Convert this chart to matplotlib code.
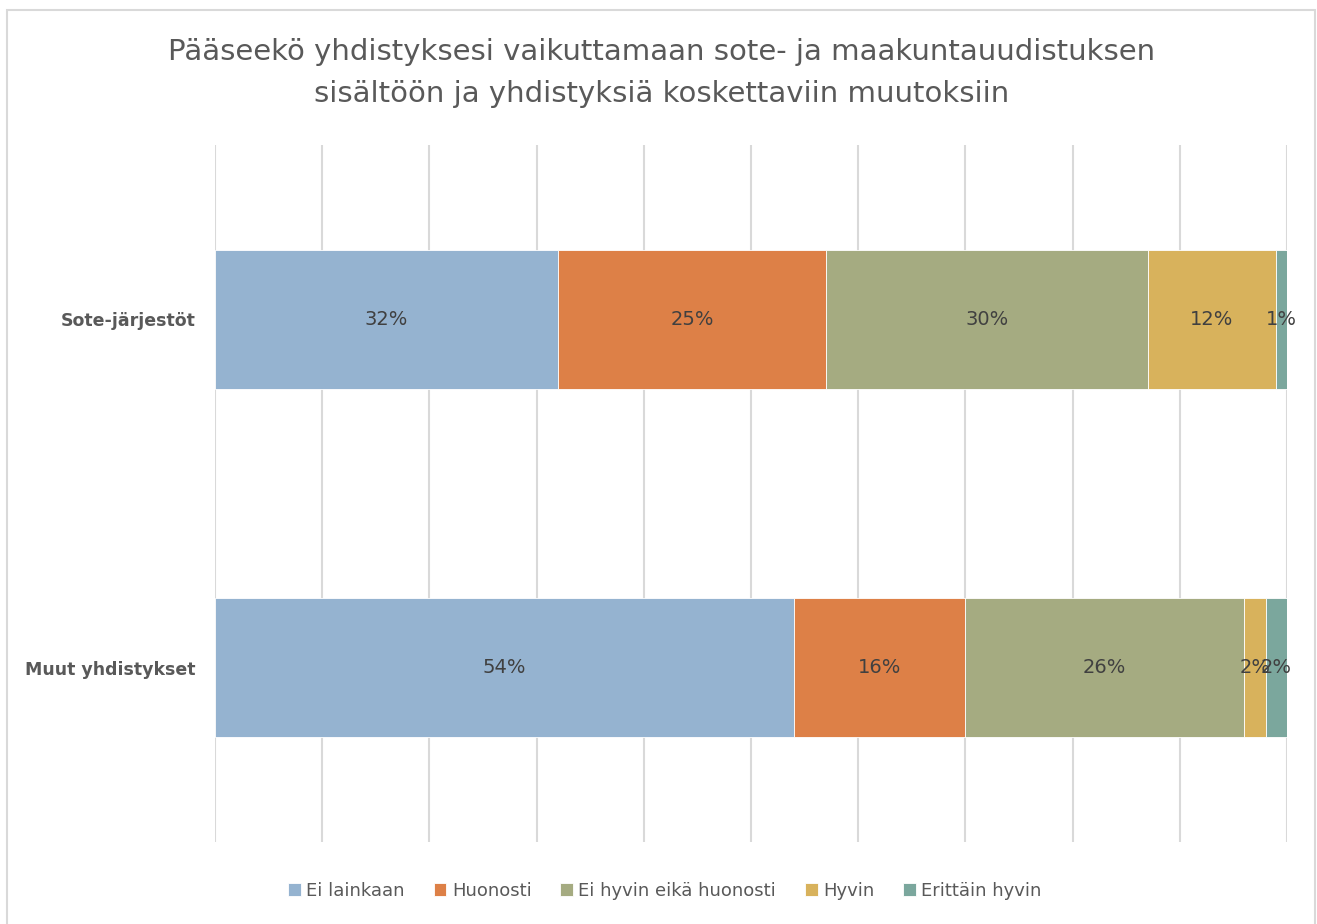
import matplotlib
matplotlib.use("Agg")
import matplotlib.pyplot as plt
from matplotlib.patches import Rectangle
import numpy as np

categories = ["Sote-järjestöt", "Muut yhdistykset"]
series_names = ["Ei lainkaan", "Huonosti", "Ei hyvin eikä huonosti", "Hyvin", "Erittäin hyvin"]
values = {
    "Ei lainkaan": [32, 54],
    "Huonosti": [25, 16],
    "Ei hyvin eikä huonosti": [30, 26],
    "Hyvin": [12, 2],
    "Erittäin hyvin": [1, 2],
}
colors = ["#95B3D0", "#DD8047", "#A5AB81", "#D8B25C", "#7BA79D"]
title = "Pääseekö yhdistyksesi vaikuttamaan sote- ja maakuntauudistuksen\nsisältöön ja yhdistyksiä koskettaviin muutoksiin"

plt.rcParams['font.family'] = ['DejaVu Sans']

W, H = 1317, 924
fig = plt.figure(figsize=(W / 100, H / 100), dpi=100)

# chart frame
fig.patches.append(Rectangle((7 / W, -0.01), (1315 - 7) / W, 1 - 10 / H + 0.01,
                             transform=fig.transFigure, fill=False,
                             edgecolor="#D9D9D9", linewidth=1.5))

ax = fig.add_axes([215 / W, 1 - 842 / H, (1287 - 215) / W, (842 - 145) / H])
ypos = np.arange(len(categories))[::-1]  # Sote top
totals = np.array([sum(values[s][i] for s in series_names) for i in range(len(categories))], dtype=float)
left = np.zeros(len(categories))
for name, col in zip(series_names, colors):
    v = np.array(values[name], dtype=float)
    frac = v / totals
    ax.barh(ypos, frac, left=left, height=0.4, color=col, edgecolor="white",
            linewidth=0.6, label=name, zorder=3)
    for y, l, f, raw in zip(ypos, left, frac, v):
        ax.text(l + f / 2, y, f"{int(raw)}%", ha="center", va="center",
                fontsize=14, color="#404040", zorder=4)
    left += frac

ax.set_xlim(0, 1)
ax.set_ylim(-0.5, 1.5)
ax.set_xticks(np.linspace(0, 1, 11))
ax.xaxis.grid(True, color="#D9D9D9", linewidth=1.5, zorder=0)
ax.tick_params(axis="x", length=0, labelbottom=False)
ax.set_yticks(ypos)
ax.set_yticklabels(categories, fontsize=12.5, fontweight="bold", color="#595959")
ax.tick_params(axis="y", length=0, pad=14)
for s in ax.spines.values():
    s.set_visible(False)

fig.text(0.5 * (172 + 1152) / W, 1 - 73 / H, title, ha="center", va="center",
         fontsize=21, color="#595959", linespacing=1.65)

fig.legend(loc="center", bbox_to_anchor=(665 / W, 1 - 891 / H), ncol=5,
           frameon=False, fontsize=13, handlelength=0.7, handleheight=0.7,
           handletextpad=0.3, columnspacing=1.6, labelcolor="#595959")

fig.savefig("out.png", dpi=100)
